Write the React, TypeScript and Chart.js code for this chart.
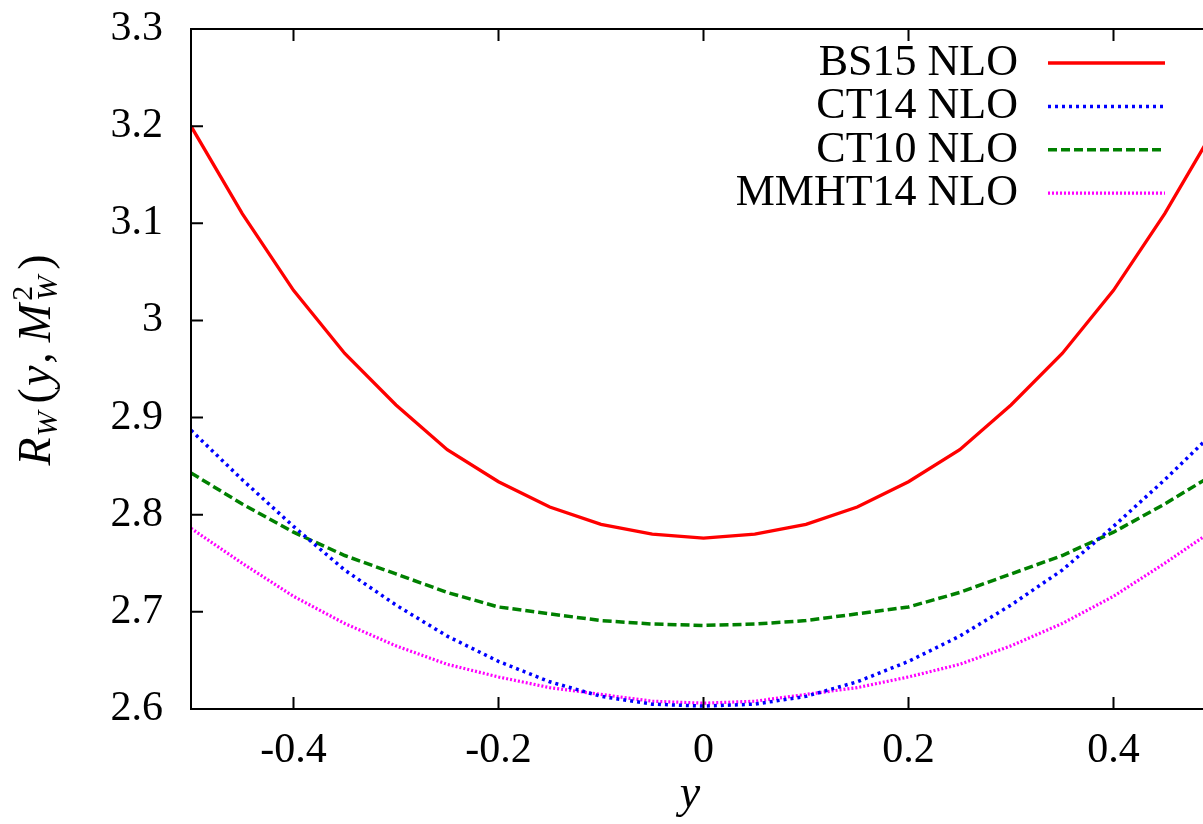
import React, { useEffect, useRef } from "react";
import { Chart, registerables } from "chart.js";

Chart.register(...registerables);

// rapidity grid
const rapidity = [
  -0.5, -0.45, -0.4, -0.35, -0.3, -0.25, -0.2, -0.15, -0.1, -0.05, 0,
  0.05, 0.1, 0.15, 0.2, 0.25, 0.3, 0.35, 0.4, 0.45, 0.5,
];

const bs15 = [
  3.2, 3.11, 3.031, 2.966, 2.913, 2.867, 2.834, 2.808, 2.79, 2.78, 2.776,
  2.78, 2.79, 2.808, 2.834, 2.867, 2.913, 2.966, 3.031, 3.11, 3.2,
];
const ct14 = [
  2.887, 2.836, 2.788, 2.743, 2.707, 2.675, 2.649, 2.628, 2.613, 2.605, 2.603,
  2.605, 2.613, 2.628, 2.649, 2.675, 2.707, 2.743, 2.788, 2.836, 2.887,
];
const ct10 = [
  2.843, 2.811, 2.782, 2.758, 2.739, 2.72, 2.705, 2.698, 2.691, 2.6875, 2.686,
  2.6875, 2.691, 2.698, 2.705, 2.72, 2.739, 2.758, 2.782, 2.811, 2.843,
];
const mmht14 = [
  2.786, 2.75, 2.716, 2.688, 2.665, 2.646, 2.633, 2.622, 2.615, 2.608, 2.606,
  2.608, 2.615, 2.622, 2.633, 2.646, 2.665, 2.688, 2.716, 2.75, 2.786,
];

const seriesLabels = ["BS15 NLO", "CT14 NLO", "CT10 NLO", "MMHT14 NLO"];
const xTickValues = [-0.4, -0.2, 0, 0.2, 0.4];
const yTickValues = [2.6, 2.7, 2.8, 2.9, 3.0, 3.1, 3.2, 3.3];

const SERIF = "'Liberation Serif', 'DejaVu Serif', serif";

const framePlugin = {
  id: "gnuplotFrame",
  afterDraw(chart: any) {
    const ctx = chart.ctx as CanvasRenderingContext2D;
    const { left, right, top, bottom } = chart.chartArea;
    const xs = chart.scales.x;
    const ys = chart.scales.y;
    ctx.save();
    // frame
    ctx.strokeStyle = "#000";
    ctx.lineWidth = 2;
    ctx.setLineDash([]);
    ctx.strokeRect(left, top, right - left, bottom - top);
    // inward ticks
    const tl = 12;
    ctx.beginPath();
    for (const v of xTickValues) {
      const px = xs.getPixelForValue(v);
      ctx.moveTo(px, bottom);
      ctx.lineTo(px, bottom - tl);
      ctx.moveTo(px, top);
      ctx.lineTo(px, top + tl);
    }
    for (const v of yTickValues) {
      const py = ys.getPixelForValue(v);
      ctx.moveTo(left, py);
      ctx.lineTo(left + tl, py);
      ctx.moveTo(right, py);
      ctx.lineTo(right - tl, py);
    }
    ctx.stroke();

    // legend
    ctx.font = `44px ${SERIF}`;
    ctx.fillStyle = "#000";
    ctx.textAlign = "right";
    ctx.textBaseline = "alphabetic";
    chart.data.datasets.forEach((ds: any, i: number) => {
      const base = 75 + 43.4 * i;
      ctx.fillText(ds.label, 1018, base);
      const ly = base - 12;
      ctx.beginPath();
      ctx.strokeStyle = ds.borderColor;
      ctx.lineWidth = ds.borderWidth;
      ctx.setLineDash(ds.borderDash || []);
      ctx.moveTo(1048, ly);
      ctx.lineTo(1165, ly);
      ctx.stroke();
    });
    ctx.setLineDash([]);

    // x title
    ctx.textAlign = "center";
    ctx.font = `italic 46px ${SERIF}`;
    ctx.fillText("y", 690, 807);

    // y title (rotated), laid out piece by piece along the baseline
    const big = `italic 46px ${SERIF}`;
    const bigUp = `46px ${SERIF}`;
    const small = `italic 30px ${SERIF}`;
    const smallUp = `30px ${SERIF}`;
    const pieces: { t: string; f: string; dy: number; gap: number; stack?: boolean }[] = [
      { t: "R", f: big, dy: 0, gap: 0 },
      { t: "W", f: small, dy: 7, gap: 1 },
      { t: "(", f: bigUp, dy: 0, gap: 8 },
      { t: "y", f: big, dy: 0, gap: 2 },
      { t: ",", f: bigUp, dy: 0, gap: 2 },
      { t: "M", f: big, dy: 0, gap: 10 },
      { t: "2", f: smallUp, dy: -18, gap: 3, stack: true },
      { t: "W", f: small, dy: 7, gap: 0 },
      { t: ")", f: bigUp, dy: 0, gap: 6 },
    ];
    ctx.save();
    ctx.textAlign = "left";
    // measure total
    let total = 0;
    let lastStackW = 0;
    for (const p of pieces) {
      ctx.font = p.f;
      const w = ctx.measureText(p.t).width;
      if (p.stack) {
        total += p.gap;
        lastStackW = w;
      } else {
        total += p.gap + Math.max(w, lastStackW > 0 ? 0 : 0);
      }
    }
    ctx.translate(50, 360 + total / 2);
    ctx.rotate(-Math.PI / 2);
    let a = 0;
    let stackStart = -1;
    for (const p of pieces) {
      ctx.font = p.f;
      const w = ctx.measureText(p.t).width;
      if (p.stack) {
        a += p.gap;
        stackStart = a;
        ctx.fillText(p.t, a, p.dy);
        continue;
      }
      if (stackStart >= 0) {
        ctx.fillText(p.t, stackStart, p.dy);
        a = stackStart + w;
        stackStart = -1;
        continue;
      }
      a += p.gap;
      ctx.fillText(p.t, a, p.dy);
      a += w;
    }
    ctx.restore();

    ctx.restore();
  },
};

export default function App() {
  const canvasRef = useRef<HTMLCanvasElement | null>(null);

  useEffect(() => {
    const canvas = canvasRef.current;
    if (!canvas) return;
    const mk = (vals: number[]) => rapidity.map((x, i) => ({ x, y: vals[i] }));
    const chart = new Chart(canvas, {
      type: "line",
      data: {
        datasets: [
          {
            label: seriesLabels[0],
            data: mk(bs15),
            borderColor: "#ff0000",
            borderWidth: 3.3,
            borderDash: [],
            pointRadius: 0,
            tension: 0,
            fill: false,
          },
          {
            label: seriesLabels[1],
            data: mk(ct14),
            borderColor: "#0000ff",
            borderWidth: 3.5,
            borderDash: [3, 4],
            pointRadius: 0,
            tension: 0,
            fill: false,
          },
          {
            label: seriesLabels[2],
            data: mk(ct10),
            borderColor: "#008000",
            borderWidth: 3.5,
            borderDash: [9, 4],
            pointRadius: 0,
            tension: 0,
            fill: false,
          },
          {
            label: seriesLabels[3],
            data: mk(mmht14),
            borderColor: "#ff00ff",
            borderWidth: 3.2,
            borderDash: [2, 2],
            pointRadius: 0,
            tension: 0,
            fill: false,
          },
        ],
      },
      options: {
        responsive: false,
        animation: false,
        devicePixelRatio: 1,
        layout: { padding: { top: 29, right: 24, left: 0, bottom: 0 } },
        plugins: {
          legend: { display: false },
          tooltip: { enabled: false },
        },
        scales: {
          x: {
            type: "linear",
            min: -0.5,
            max: 0.5,
            grid: { display: false, drawTicks: false },
            border: { display: false },
            afterBuildTicks: (s: any) => {
              s.ticks = xTickValues.map((v) => ({ value: v }));
            },
            afterFit: (s: any) => {
              s.height = 115;
              s.paddingLeft = 0;
              s.paddingRight = 0;
              s.paddingTop = 0;
              s.paddingBottom = 0;
            },
            ticks: {
              color: "#000",
              font: { family: SERIF, size: 42 },
              padding: 17,
              maxRotation: 0,
              autoSkip: false,
              callback: (v: any) => String(Math.round(Number(v) * 10) / 10),
            },
          },
          y: {
            type: "linear",
            min: 2.6,
            max: 3.3,
            grid: { display: false, drawTicks: false },
            border: { display: false },
            afterBuildTicks: (s: any) => {
              s.ticks = yTickValues.map((v) => ({ value: v }));
            },
            afterFit: (s: any) => {
              s.width = 191;
              s.paddingTop = 0;
              s.paddingBottom = 0;
              s.paddingLeft = 0;
              s.paddingRight = 0;
            },
            ticks: {
              color: "#000",
              font: { family: SERIF, size: 42 },
              padding: 28,
              autoSkip: false,
              callback: (v: any) => String(Math.round(Number(v) * 10) / 10),
            },
          },
        },
      },
      plugins: [framePlugin],
    });
    return () => chart.destroy();
  }, []);

  return (
    <div
      style={{
        position: "absolute",
        left: 0,
        top: 0,
        width: 1203,
        height: 824,
        overflow: "hidden",
        background: "#fff",
      }}
    >
      <canvas ref={canvasRef} width={1240} height={824} style={{ display: "block" }} />
    </div>
  );
}
